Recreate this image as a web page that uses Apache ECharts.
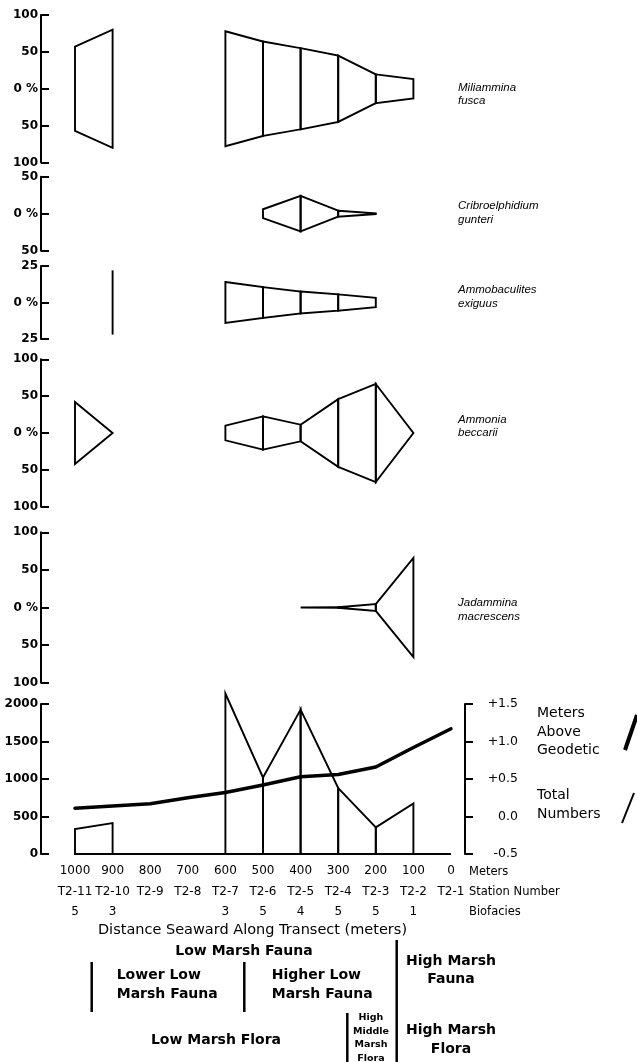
<!DOCTYPE html>
<html>
<head>
<meta charset="utf-8">
<script src="https://cdn.jsdelivr.net/npm/echarts@6/dist/echarts.min.js"></script>
<style>
  html, body { margin: 0; padding: 0; background: #fff; }
  #chart { width: 637px; height: 1062px; }
</style>
</head>
<body>
<div id="chart"></div>
<script>
// Stations along transect T2 (distance seaward in meters)
const distances = [1000, 900, 800, 700, 600, 500, 400, 300, 200, 100, 0];
const stations  = ['T2-11', 'T2-10', 'T2-9', 'T2-8', 'T2-7', 'T2-6', 'T2-5', 'T2-4', 'T2-3', 'T2-2', 'T2-1'];
const biofacies = ['5', '3', '', '', '3', '5', '4', '5', '5', '1', ''];

// Percent abundance of each species at each station (null = not sampled / absent)
const miliammina      = [57, 80, null, null, 78, 64, 55, 45, 19.5, 13, null];
const cribroelphidium = [null, null, null, null, null, 6, 24, 4, 0.5, null, null];
const ammobaculites   = [null, 22, null, null, 14, 10.5, 7.5, 5.6, 3.2, null, null];
const ammonia         = [42, 0, null, null, 10, 22.6, 11.3, 46, 66.5, 0, null];
const jadammina       = [null, null, null, null, null, null, 0, 0.4, 4.5, 66, null];

// Total foraminiferal numbers and marsh surface elevation
const totalNumbers = [333, 413, null, null, 2140, 1020, 1925, 880, 355, 675, null];
const elevation    = [0.11, 0.14, 0.17, 0.25, 0.32, 0.42, 0.53, 0.56, 0.66, 0.92, 1.17];

const FONT = 'DejaVu Sans';

// Turn a station series into consecutive segments [x0, v0, x1, v1]
function segments(vals) {
  const out = [];
  for (let i = 0; i < distances.length; i++) {
    if (vals[i] == null) continue;
    const hasNext = i + 1 < distances.length && vals[i + 1] != null;
    const hasPrev = i > 0 && vals[i - 1] != null;
    if (hasNext) out.push([distances[i], vals[i], distances[i + 1], vals[i + 1]]);
    else if (!hasPrev) out.push([distances[i], vals[i], distances[i], vals[i]]);
  }
  return out;
}

const STROKE = { stroke: '#000', lineWidth: 1.9, fill: 'rgba(0,0,0,0)', lineJoin: 'miter' };

// Symmetric kite segment mirrored about the zero line
function kiteItem(params, api) {
  const x0 = api.value(0), v0 = api.value(1), x1 = api.value(2), v1 = api.value(3);
  const a = api.coord([x0, v0]), b = api.coord([x1, v1]);
  const c = api.coord([x1, -v1]), d = api.coord([x0, -v0]);
  if (x0 === x1) {
    return { type: 'line', shape: { x1: a[0], y1: a[1], x2: d[0], y2: d[1] }, style: STROKE };
  }
  return { type: 'polygon', shape: { points: [a, b, c, d] }, style: STROKE };
}

// One-sided segment standing on the zero baseline
function columnItem(params, api) {
  const x0 = api.value(0), v0 = api.value(1), x1 = api.value(2), v1 = api.value(3);
  const pts = [api.coord([x0, 0]), api.coord([x0, v0]), api.coord([x1, v1]), api.coord([x1, 0])];
  return { type: 'polygon', shape: { points: pts }, style: STROKE };
}

const panels = [
  { top: 15,    height: 147.5, range: 100, step: 50, data: miliammina },
  { top: 176.7, height: 74,    range: 50,  step: 50, data: cribroelphidium },
  { top: 266,   height: 73,    range: 25,  step: 25, data: ammobaculites },
  { top: 359.3, height: 147.4, range: 100, step: 50, data: ammonia },
  { top: 532.3, height: 150.4, range: 100, step: 50, data: jadammina }
];

const GRID_LEFT = 75, GRID_RIGHT = 637 - 451;

const grids = panels.map(p => ({ left: GRID_LEFT, right: GRID_RIGHT, top: p.top, height: p.height }));
grids.push({ left: GRID_LEFT, right: GRID_RIGHT, top: 704, height: 150 });

const hiddenX = i => ({ type: 'value', gridIndex: i, min: 0, max: 1000, inverse: true, show: false });
const xAxes = panels.map((p, i) => hiddenX(i));
xAxes.push({
  type: 'value', gridIndex: 5, min: 0, max: 1000, interval: 100, inverse: true,
  axisLine: { show: false }, axisTick: { show: false }, splitLine: { show: false },
  axisLabel: {
    show: true, margin: 7, color: '#000', fontFamily: FONT, fontSize: 12, lineHeight: 20.5,
    showMinLabel: true, showMaxLabel: true,
    formatter: v => {
      const i = distances.indexOf(v);
      return i < 0 ? '' : [String(v), stations[i], biofacies[i]].join('\n');
    }
  }
});

const leftAxisCommon = {
  position: 'left',
  offset: 34,
  axisLine: { show: true, onZero: false, lineStyle: { color: '#000', width: 2 } },
  axisTick: { show: true, inside: true, length: 8, lineStyle: { color: '#000', width: 2 } },
  splitLine: { show: false }
};
const leftLabel = { margin: 3, color: '#000', fontFamily: FONT, fontWeight: 'bold', fontSize: 12 };

const yAxes = panels.map((p, i) => Object.assign({
  type: 'value', gridIndex: i, min: -p.range, max: p.range, interval: p.step,
  axisLabel: Object.assign({}, leftLabel, { formatter: v => v === 0 ? '0 %' : String(Math.abs(v)) })
}, leftAxisCommon));

yAxes.push(Object.assign({
  type: 'value', gridIndex: 5, min: 0, max: 2000, interval: 500,
  axisLabel: Object.assign({}, leftLabel, { formatter: v => String(v) })
}, leftAxisCommon));

yAxes.push({
  type: 'value', gridIndex: 5, position: 'right', offset: 14, min: -0.5, max: 1.5, interval: 0.5,
  axisLine: { show: true, onZero: false, lineStyle: { color: '#000', width: 2 } },
  axisTick: { show: true, inside: false, length: 8, lineStyle: { color: '#000', width: 2 } },
  splitLine: { show: false },
  axisLabel: {
    margin: 53, align: 'right', color: '#000', fontFamily: FONT, fontSize: 12.5,
    formatter: v => (v > 0 ? '+' : '') + v.toFixed(1)
  }
});

const series = panels.map((p, i) => ({
  type: 'custom', xAxisIndex: i, yAxisIndex: i, renderItem: kiteItem,
  encode: { x: [0, 2], y: [1, 3] }, data: segments(p.data), silent: true
}));

series.push({
  type: 'custom', xAxisIndex: 5, yAxisIndex: 5, renderItem: columnItem,
  encode: { x: [0, 2], y: [1, 3] }, data: segments(totalNumbers), silent: true
});

// zero baseline of the total numbers along the full transect
series.push({
  type: 'line', xAxisIndex: 5, yAxisIndex: 5, showSymbol: false, silent: true,
  lineStyle: { color: '#000', width: 1.9 },
  data: [[distances[0], 0], [distances[distances.length - 1], 0]]
});

series.push({
  type: 'line', xAxisIndex: 5, yAxisIndex: 6, showSymbol: false, silent: true,
  lineStyle: { color: '#000', width: 3.5, cap: 'round', join: 'round' },
  data: distances.map((d, i) => [d, elevation[i]])
});

function txt(x, y, text, opts) {
  return {
    type: 'text', x, y, silent: true,
    style: Object.assign({
      text, fill: '#000', fontFamily: FONT, fontSize: 12,
      align: 'left', verticalAlign: 'middle'
    }, opts || {})
  };
}
function bar(x, y1, y2, w) {
  return { type: 'line', silent: true, shape: { x1: x, y1, x2: x, y2 }, style: { stroke: '#000', lineWidth: w || 2.5 } };
}

const italic = { fontFamily: 'Liberation Sans', fontStyle: 'italic', fontSize: 11.5, lineHeight: 13.5 };
const boldLbl = { fontWeight: 'bold', fontSize: 14, align: 'center' };

const graphic = [
  // species names
  txt(458, 94.5, 'Miliammina\nfusca', italic),
  txt(458, 213, 'Cribroelphidium\ngunteri', italic),
  txt(458, 297, 'Ammobaculites\nexiguus', italic),
  txt(458, 426.5, 'Ammonia\nbeccarii', italic),
  txt(458, 610, 'Jadammina\nmacrescens', italic),

  // legend of the lower panel
  txt(537, 732, 'Meters\nAbove\nGeodetic', { fontSize: 14, lineHeight: 18.4 }),
  txt(537, 804.5, 'Total\nNumbers', { fontSize: 14, lineHeight: 19 }),
  { type: 'line', silent: true, shape: { x1: 625, y1: 750, x2: 637, y2: 715 }, style: { stroke: '#000', lineWidth: 4 } },
  { type: 'line', silent: true, shape: { x1: 622, y1: 823, x2: 634, y2: 793 }, style: { stroke: '#000', lineWidth: 2 } },

  // row titles for the distance axis
  txt(469, 872, 'Meters', { fontSize: 11.5 }),
  txt(469, 892, 'Station Number', { fontSize: 11.5 }),
  txt(469, 912, 'Biofacies', { fontSize: 11.5 }),
  txt(252.5, 930, 'Distance Seaward Along Transect (meters)', { fontSize: 14.5, align: 'center' }),

  // zonation
  txt(244, 951, 'Low Marsh Fauna', boldLbl),
  bar(91.7, 962, 1012),
  txt(116.7, 985, 'Lower Low\nMarsh Fauna', { fontWeight: 'bold', fontSize: 14, lineHeight: 18.3 }),
  bar(244.3, 962, 1012),
  txt(271.7, 985, 'Higher Low\nMarsh Fauna', { fontWeight: 'bold', fontSize: 14, lineHeight: 18.3 }),
  bar(396.7, 940, 1062),
  txt(451, 970.3, 'High Marsh\nFauna', Object.assign({ lineHeight: 17.5 }, boldLbl)),
  txt(216, 1040, 'Low Marsh Flora', boldLbl),
  bar(347.3, 1013, 1062),
  txt(371, 1011, 'High\nMiddle\nMarsh\nFlora', { fontWeight: 'bold', fontSize: 9.5, lineHeight: 13.5, align: 'center', verticalAlign: 'top' }),
  txt(451, 1040, 'High Marsh\nFlora', Object.assign({ lineHeight: 18.5 }, boldLbl))
];

const chart = echarts.init(document.getElementById('chart'), null, { renderer: 'canvas' });
chart.setOption({
  backgroundColor: '#fff',
  animation: false,
  grid: grids,
  xAxis: xAxes,
  yAxis: yAxes,
  series,
  graphic
});
</script>
</body>
</html>
